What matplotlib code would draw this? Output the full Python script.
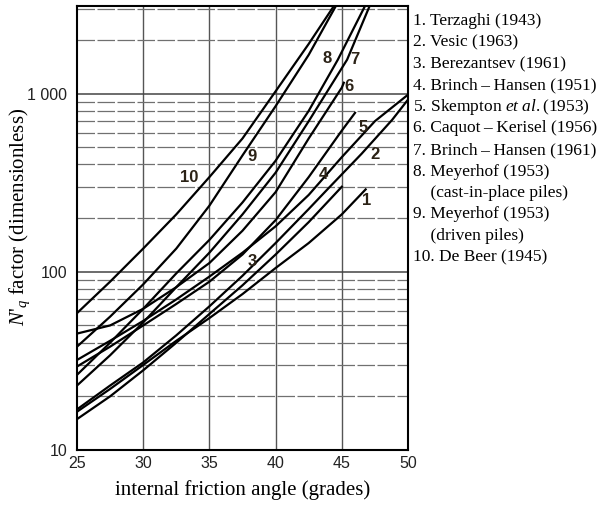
import matplotlib
matplotlib.use("Agg")
import matplotlib.pyplot as plt

plt.rcParams["mathtext.fontset"] = "custom"
plt.rcParams["mathtext.rm"] = "Liberation Serif"
plt.rcParams["mathtext.it"] = "Liberation Serif:italic"

# curves: friction angle (grades) vs N'q
angles_1 = [25, 27.5, 30, 32.5, 35, 37.5, 40, 42.5, 45, 46.8]
nq_1 = [16.4, 22, 30, 41, 55, 75, 105, 145, 210, 290]

angles_2 = [25, 27.5, 30, 32.5, 35, 37.5, 40, 42.5, 44.1, 46.5, 48.8, 50]
nq_2 = [16.9, 23, 31, 44, 64, 95, 145, 225, 300, 460, 712, 925]

angles_3 = [25, 27.5, 30, 32.5, 35, 37.5, 40, 42.5, 45]
nq_3 = [14.9, 20, 28, 40, 58, 84, 125, 190, 300]

angles_4 = [25, 27.5, 30, 32.5, 35, 37.5, 40, 42.5, 45, 47.5, 50]
nq_4 = [32, 41, 53, 70, 94, 128, 180, 270, 440, 700, 986]

angles_5 = [25, 27.5, 30, 32.5, 35, 37.5, 40, 42.5, 45, 46.0]
nq_5 = [29.4, 38, 50, 66, 88, 125, 195, 340, 620, 780]

angles_6 = [25, 27.5, 30, 32.5, 35, 37.5, 40, 42.5, 45, 45.15]
nq_6 = [45, 50, 62, 82, 112, 170, 280, 560, 1080, 1150]

angles_7 = [25, 27.5, 30, 32.5, 35, 37.5, 40, 42.5, 45.4, 47.1]
nq_7 = [23, 34, 52, 82, 128, 210, 360, 700, 1550, 3100]

angles_8 = [25, 27.5, 30, 32.5, 35, 37.5, 40, 42.5, 44.7, 46.75]
nq_8 = [26.4, 40, 62, 98, 151, 245, 420, 800, 1550, 3100]

angles_9 = [25, 27.5, 30, 32.5, 35, 37.5, 40, 42.5, 44.55]
nq_9 = [38, 56, 85, 135, 235, 450, 850, 1650, 3100]

angles_10 = [25, 27.5, 30, 32.5, 35, 37.5, 40, 42.5, 44.4]
nq_10 = [58.6, 88, 135, 210, 340, 560, 1030, 1900, 3100]

curve_names = [
    "1. Terzaghi (1943)",
    "2. Vesic (1963)",
    "3. Berezantsev (1961)",
    "4. Brinch\u2009\u2013\u2009Hansen (1951)",
    "5. Skempton $\\mathit{et\\ al.}$(1953)",
    "6. Caquot\u2009\u2013\u2009Kerisel (1956)",
    "7. Brinch\u2009\u2013\u2009Hansen (1961)",
    "8. Meyerhof (1953)",
    "    (cast-in-place piles)",
    "9. Meyerhof (1953)",
    "    (driven piles)",
    "10. De Beer (1945)",
]

x_ticks = [25, 30, 35, 40, 45, 50]
y_ticks = [10, 100, 1000]
y_tick_labels = ["10", "100", "1 000"]

curves = [
    (angles_1, nq_1), (angles_2, nq_2), (angles_3, nq_3), (angles_4, nq_4),
    (angles_5, nq_5), (angles_6, nq_6), (angles_7, nq_7), (angles_8, nq_8),
    (angles_9, nq_9), (angles_10, nq_10),
]
label_spots = [
    (46.9, 250), (47.5, 454), (38.2, 114), (43.6, 350), (46.6, 646),
    (45.55, 1094), (46.0, 1550), (43.9, 1575), (38.2, 443), (33.5, 337),
]

fig = plt.figure(figsize=(6.12, 5.05), dpi=100)
ax = fig.add_axes([0.1258, 0.1089, 0.5409, 0.8792])
ax.set_yscale("log")
ax.set_xlim(25, 50)
ax.set_ylim(10, 3100)

# grid: solid verticals, dashed minor horizontals, solid decades
for x in [30, 35, 40, 45]:
    ax.axvline(x, color="#555555", lw=1.0, zorder=1)
for dec in [10, 100, 1000]:
    for m in range(2, 10):
        v = dec * m
        if v < 3100:
            ax.axhline(v, color="#707070", lw=0.9, ls=(0, (14, 2)), zorder=1)
for v in [100, 1000]:
    ax.axhline(v, color="#444444", lw=1.1, zorder=1)

for angles, nq in curves:
    ax.plot(angles, nq, color="black", lw=1.6, zorder=3,
            solid_joinstyle="round")

for i, (a, n) in enumerate(label_spots):
    ax.text(a, n, str(i + 1), fontsize=12, fontweight="bold",
            family="Liberation Sans", color="#2b2216", ha="center", va="center",
            zorder=4)

ax.set_xticks(x_ticks)
ax.set_yticks(y_ticks)
ax.set_yticklabels(y_tick_labels)
ax.minorticks_off()
ax.tick_params(length=0, labelsize=11.5, labelcolor="#222222")
ax.tick_params(axis="x", pad=4)
ax.tick_params(axis="y", pad=7)
for lab in ax.get_xticklabels() + ax.get_yticklabels():
    lab.set_family("Liberation Sans")
for s in ax.spines.values():
    s.set_linewidth(1.5)

ax.set_xlabel("internal friction angle (grades)", fontsize=15,
              family="Liberation Serif", labelpad=7)
ax.set_ylabel("$N$'$_q$ factor (dimensionless)", fontsize=15,
              family="Liberation Serif")
ax.yaxis.set_label_coords(-0.135, 0.525)

row_y = 21
for name in curve_names:
    fig.text(413 / 612, 1 - row_y / 505, name, fontsize=12.5,
             family="Liberation Serif", va="center", ha="left")
    row_y += 21.5

fig.savefig("out.png", dpi=100)
